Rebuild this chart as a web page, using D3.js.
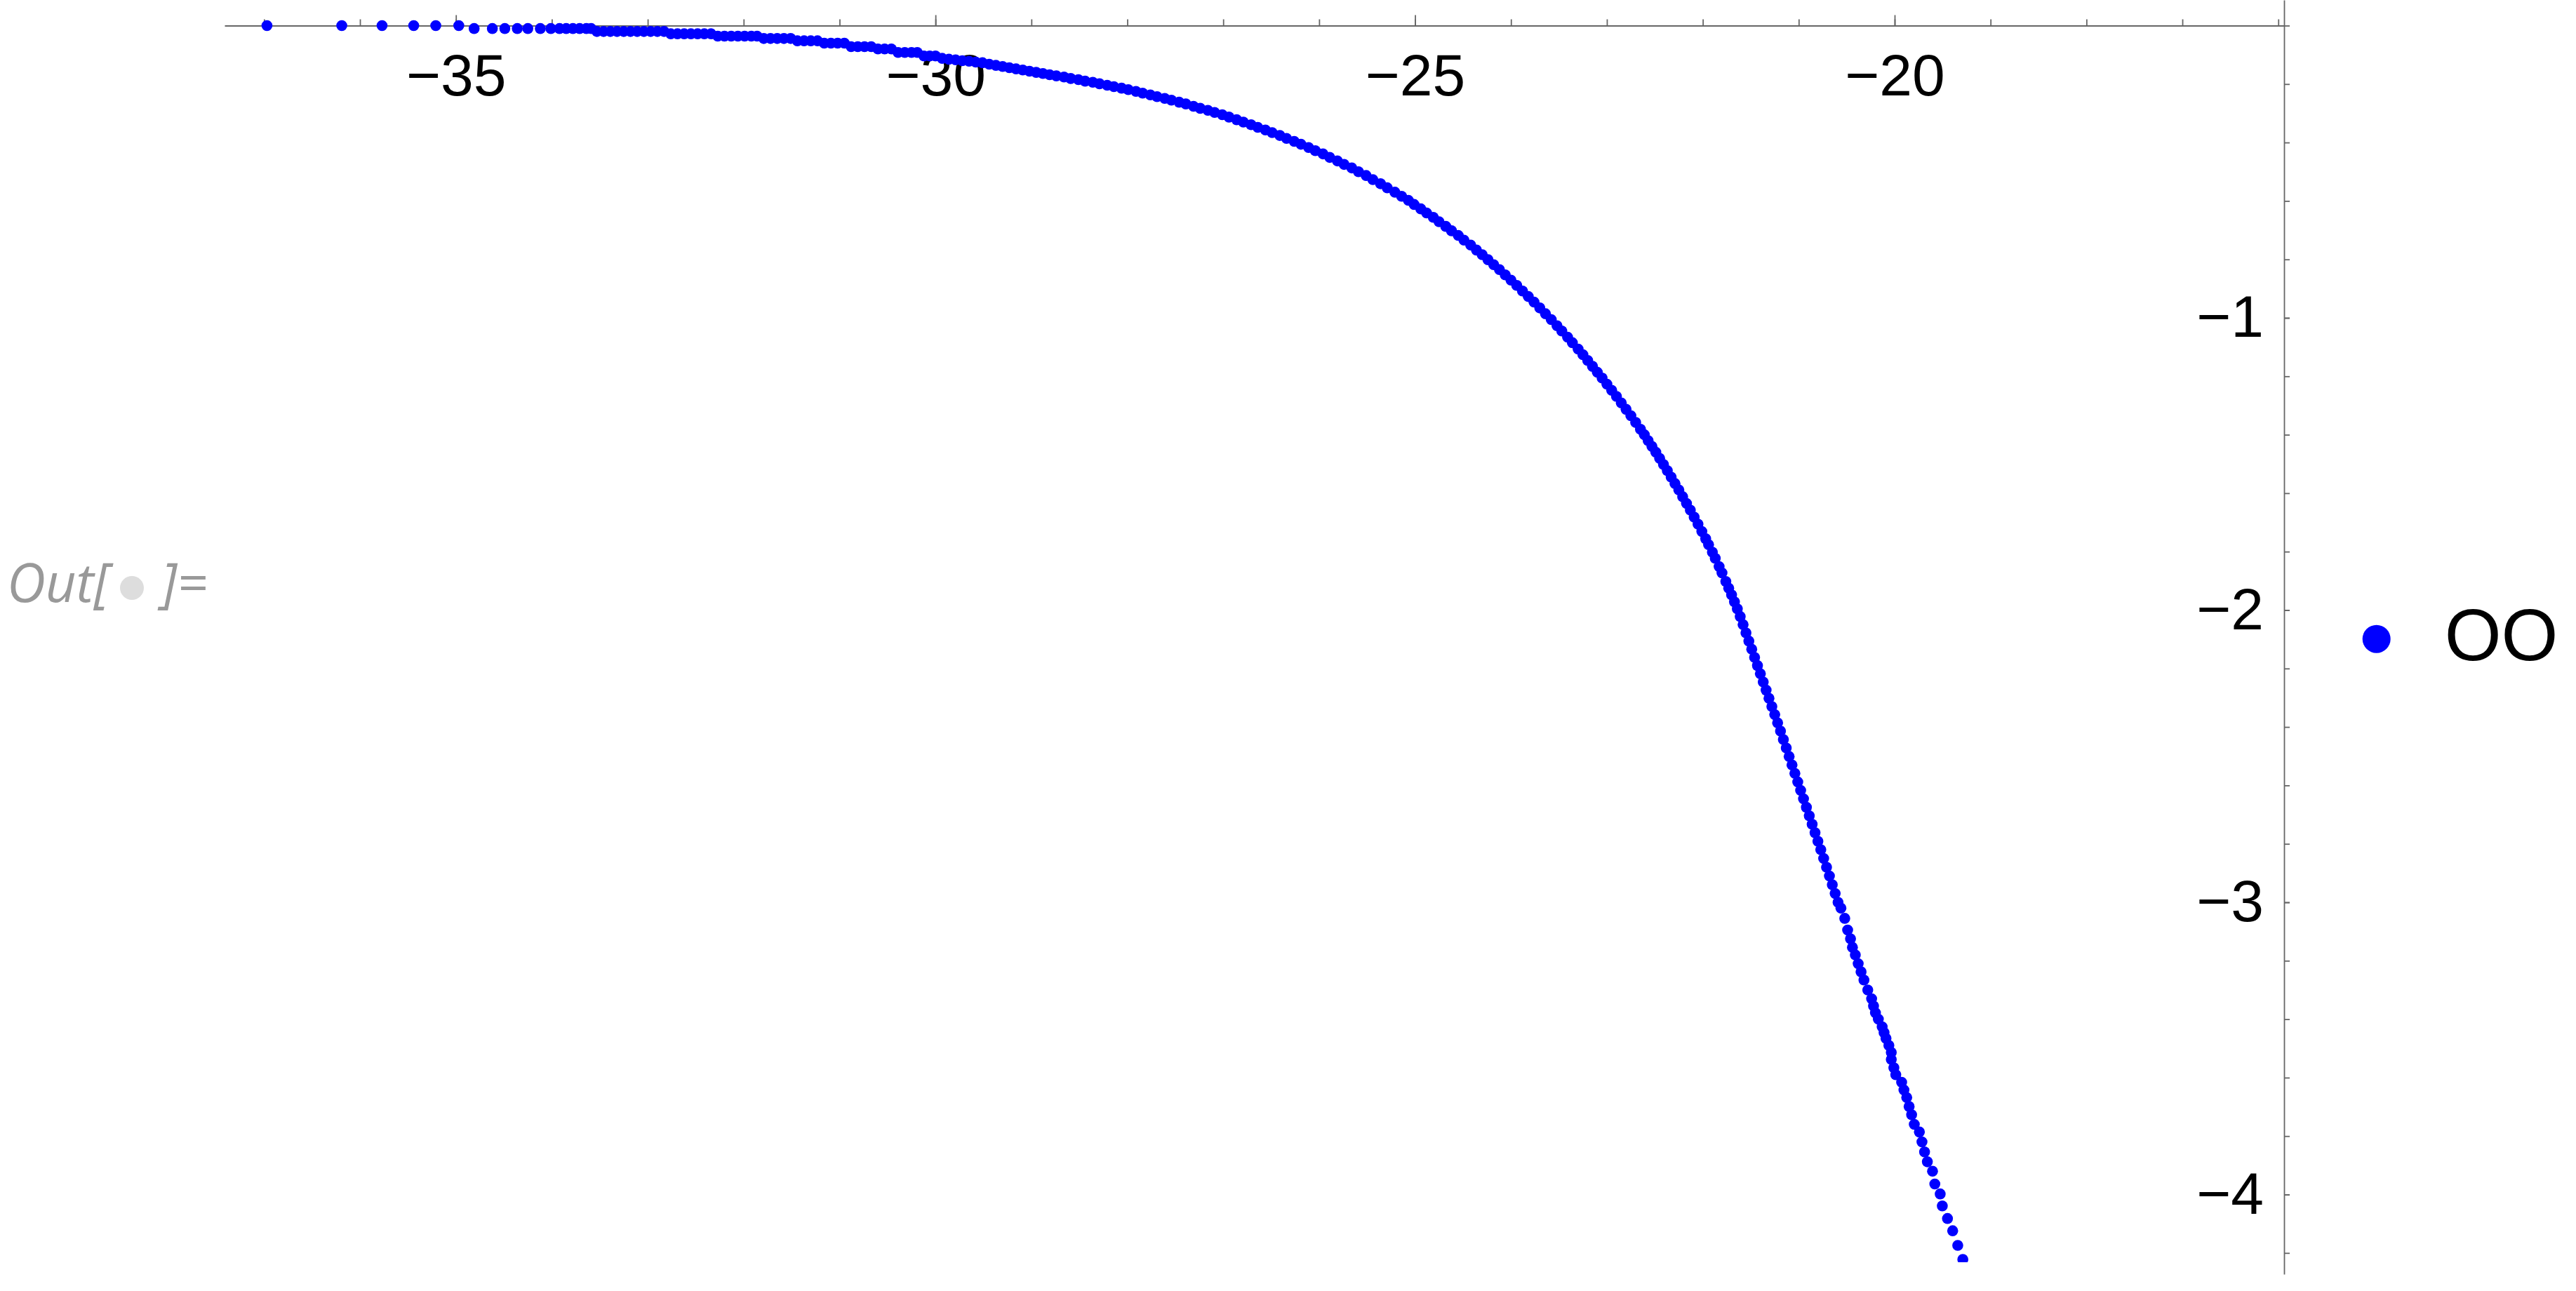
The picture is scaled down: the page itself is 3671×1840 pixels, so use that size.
<!DOCTYPE html>
<html>
<head>
<meta charset="utf-8">
<script src="https://cdn.jsdelivr.net/npm/d3@7"></script>
<style>
  body { margin: 0; background: #fff; }
  svg { display: block; }
</style>
</head>
<body>
<div id="chart"></div>
<script>
(function(){
  var width = 3671,
      height = 1840;

  // tick values
  var xMajorTicks = [-35, -30, -25, -20];
  var xMinorTicks = [-37, -36, -35, -34, -33, -32, -31, -30, -29, -28, -27, -26, -25, -24, -23, -22, -21, -20, -19, -18, -17, -16];
  var yMajorTicks = [-1, -2, -3, -4];
  var yMinorTicks = [0, -0.2, -0.4, -0.6, -0.8, -1, -1.2, -1.4, -1.6, -1.8, -2, -2.2, -2.4, -2.6, -2.8, -3, -3.2, -3.4, -3.6, -3.8, -4, -4.2];

  var seriesName = "OO";
  var outLabel = ["Out[", "]="];

  // points: [x, y]
  var ooPoints = [
    [-36.97,0],[-36.19,0],[-35.77,0],[-35.44,0],[-35.21,0],[-34.97,0],
    [-34.81,-0.01],[-34.62,-0.01],[-34.49,-0.01],[-34.36,-0.01],[-34.25,-0.01],[-34.12,-0.01],[-34.01,-0.01],
    [-33.92,-0.01],[-33.85,-0.01],[-33.78,-0.01],[-33.71,-0.01],[-33.64,-0.01],[-33.59,-0.01],
    [-33.53,-0.02],[-33.46,-0.02],[-33.39,-0.02],[-33.32,-0.02],[-33.25,-0.02],[-33.18,-0.02],[-33.11,-0.02],
    [-33.04,-0.02],[-32.97,-0.02],[-32.90,-0.02],[-32.83,-0.02],
    [-32.76,-0.028],[-32.69,-0.028],[-32.62,-0.028],[-32.55,-0.028],[-32.48,-0.028],[-32.41,-0.028],[-32.34,-0.028],
    [-32.27,-0.036],[-32.20,-0.036],[-32.13,-0.036],[-32.06,-0.036],[-31.99,-0.036],[-31.92,-0.036],[-31.86,-0.036],
    [-31.79,-0.044],[-31.72,-0.044],[-31.65,-0.044],[-31.58,-0.044],[-31.51,-0.044],
    [-31.44,-0.052],[-31.37,-0.052],[-31.30,-0.052],[-31.23,-0.052],
    [-31.16,-0.06],[-31.09,-0.06],[-31.02,-0.06],[-30.95,-0.06],
    [-30.88,-0.072],[-30.81,-0.072],[-30.74,-0.072],[-30.67,-0.072],
    [-30.60,-0.08],[-30.53,-0.08],[-30.46,-0.08],
    [-30.39,-0.092],[-30.32,-0.092],[-30.25,-0.092],[-30.19,-0.092],
    [-30.12,-0.104],[-30.06,-0.104],[-30.00,-0.104],
    [-29.93,-0.112],[-29.86,-0.115],[-29.79,-0.117],[-29.72,-0.12],[-29.65,-0.122],[-29.58,-0.125],[-29.51,-0.127],
    [-29.44,-0.132],[-29.37,-0.136],[-29.30,-0.14],[-29.23,-0.144],[-29.16,-0.148],
    [-29.09,-0.152],[-29.02,-0.156],[-28.95,-0.16],[-28.88,-0.164],[-28.81,-0.168],
    [-28.74,-0.172],[-28.66,-0.176],[-28.59,-0.181],[-28.51,-0.185],[-28.44,-0.19],[-28.36,-0.194],[-28.29,-0.199],
    [-28.21,-0.204],[-28.14,-0.209],[-28.06,-0.214],[-27.99,-0.219],[-27.91,-0.225],[-27.84,-0.231],[-27.76,-0.237],
    [-27.69,-0.243],[-27.61,-0.249],[-27.54,-0.255],[-27.46,-0.262],[-27.39,-0.268],[-27.31,-0.276],[-27.24,-0.283],
    [-27.16,-0.29],[-27.09,-0.297],[-27.01,-0.305],[-26.94,-0.313],[-26.86,-0.322],[-26.79,-0.33],[-26.71,-0.339],
    [-26.64,-0.348],[-26.56,-0.357],[-26.49,-0.366],[-26.41,-0.376],[-26.34,-0.386],[-26.26,-0.396],[-26.19,-0.406],
    [-26.11,-0.417],[-26.04,-0.428],[-25.96,-0.439],[-25.89,-0.451],[-25.81,-0.463],[-25.74,-0.475],[-25.66,-0.487],
    [-25.59,-0.5],[-25.51,-0.513],[-25.44,-0.527],[-25.36,-0.541],[-25.29,-0.555],[-25.21,-0.57],
    [-25.14,-0.584],[-25.07,-0.598],[-25.01,-0.612],[-24.94,-0.627],[-24.88,-0.641],[-24.81,-0.656],[-24.75,-0.671],
    [-24.68,-0.687],[-24.62,-0.702],[-24.55,-0.718],[-24.49,-0.734],[-24.42,-0.751],[-24.36,-0.768],[-24.30,-0.784],
    [-24.24,-0.801],[-24.18,-0.818],[-24.12,-0.835],[-24.06,-0.853],[-24.00,-0.871],[-23.94,-0.889],[-23.88,-0.908],
    [-23.82,-0.927],[-23.76,-0.946],[-23.70,-0.966],[-23.64,-0.986],[-23.58,-1.006],[-23.52,-1.027],[-23.47,-1.045],
    [-23.41,-1.066],[-23.36,-1.085],[-23.30,-1.107],[-23.25,-1.126],[-23.20,-1.146],[-23.15,-1.166],[-23.10,-1.186],
    [-23.05,-1.206],
    [-23.00,-1.227],[-22.95,-1.248],[-22.90,-1.269],[-22.85,-1.291],[-22.80,-1.313],[-22.75,-1.335],[-22.70,-1.358],
    [-22.65,-1.381],[-22.61,-1.4],[-22.57,-1.42],[-22.53,-1.44],[-22.49,-1.46],[-22.45,-1.481],[-22.41,-1.502],
    [-22.37,-1.523],[-22.33,-1.545],[-22.29,-1.567],[-22.25,-1.589],[-22.21,-1.612],[-22.17,-1.635],[-22.13,-1.658],
    [-22.09,-1.682],[-22.05,-1.706],[-22.01,-1.731],[-21.97,-1.756],[-21.94,-1.776],[-21.90,-1.802],[-21.87,-1.823],
    [-21.83,-1.851],[-21.80,-1.873],[-21.76,-1.902],[-21.73,-1.925],[-21.70,-1.948],[-21.67,-1.972],[-21.64,-1.996],
    [-21.61,-2.022],[-21.58,-2.05],[-21.55,-2.078],[-21.52,-2.106],[-21.49,-2.134],[-21.46,-2.162],[-21.43,-2.19],
    [-21.40,-2.218],[-21.37,-2.246],[-21.34,-2.274],[-21.31,-2.302],[-21.28,-2.33],[-21.25,-2.358],[-21.22,-2.386],
    [-21.19,-2.414],[-21.16,-2.443],[-21.13,-2.472],[-21.10,-2.501],[-21.07,-2.53],[-21.04,-2.559],[-21.01,-2.588],
    [-20.98,-2.617],[-20.95,-2.646],[-20.92,-2.675],[-20.89,-2.704],[-20.86,-2.733],[-20.83,-2.762],[-20.80,-2.791],
    [-20.77,-2.82],[-20.74,-2.85],[-20.71,-2.88],[-20.68,-2.91],[-20.65,-2.94],[-20.62,-2.97],[-20.59,-3.0],
    [-20.56,-3.02],
    [-20.52,-3.055],[-20.49,-3.095],[-20.46,-3.125],[-20.44,-3.154],[-20.41,-3.18],[-20.38,-3.21],[-20.35,-3.238],
    [-20.32,-3.266],[-20.28,-3.3],[-20.24,-3.33],[-20.22,-3.355],[-20.20,-3.378],[-20.17,-3.4],[-20.13,-3.426],
    [-20.11,-3.446],[-20.09,-3.466],[-20.06,-3.49],[-20.035,-3.514],[-20.035,-3.538],[-20.008,-3.566],[-19.988,-3.59],
    [-19.927,-3.616],[-19.903,-3.642],[-19.874,-3.668],[-19.849,-3.699],[-19.823,-3.727],[-19.795,-3.76],[-19.742,-3.786],
    [-19.715,-3.82],[-19.688,-3.854],[-19.659,-3.888],[-19.605,-3.92],[-19.581,-3.964],[-19.525,-3.998],[-19.503,-4.039],
    [-19.449,-4.082],[-19.395,-4.124],[-19.342,-4.174],[-19.289,-4.222]
  ];

  var svg = d3.select("#chart")
    .append("svg")
    .attr("width", width)
    .attr("height", height)
    .style("background", "#fff");

  var x = d3.scaleLinear().domain([-35, -20]).range([649.7, 2700]);
  var y = d3.scaleLinear().domain([0, -4]).range([36.5, 1702.5]);

  // axis extents in pixels
  var left = 320, right = 3255, top = 0, bottom = 1816, clipBottom = 1799;

  var xAxisScale = x.copy().domain([x.invert(left), x.invert(right)]).range([left, right]);
  var yAxisScale = y.copy().domain([y.invert(top), y.invert(bottom)]).range([top, bottom]);

  var axisGray = "#666666",
      labelFont = "'Liberation Sans', Arial, sans-serif";

  // x axis: minor ticks + line
  var gxMinor = svg.append("g")
    .attr("transform", "translate(0," + y(0) + ")")
    .call(d3.axisBottom(xAxisScale).tickValues(xMinorTicks).tickSize(-9).tickSizeOuter(0).tickFormat(""));
  gxMinor.attr("color", axisGray);
  gxMinor.selectAll("path, line").attr("stroke-width", 1.8);

  // x axis: major ticks with labels
  var gxMajor = svg.append("g")
    .attr("transform", "translate(0," + y(0) + ")")
    .call(d3.axisBottom(xAxisScale).tickValues(xMajorTicks).tickSize(-15).tickSizeOuter(0)
      .tickPadding(40).tickFormat(d3.format("d")));
  gxMajor.select(".domain").remove();
  gxMajor.attr("color", axisGray);
  gxMajor.selectAll("line").attr("stroke-width", 1.8);
  gxMajor.selectAll("text")
    .attr("fill", "#000")
    .style("font-family", labelFont)
    .style("font-size", "84px");

  // y axis on the right edge of the plot
  var gyMinor = svg.append("g")
    .attr("transform", "translate(" + right + ",0)")
    .call(d3.axisLeft(yAxisScale).tickValues(yMinorTicks).tickSize(-8).tickSizeOuter(0).tickFormat(""));
  gyMinor.attr("color", axisGray);
  gyMinor.selectAll("path, line").attr("stroke-width", 1.8);

  var gyMajor = svg.append("g")
    .attr("transform", "translate(" + right + ",0)")
    .call(d3.axisLeft(yAxisScale).tickValues(yMajorTicks).tickSize(-8).tickSizeOuter(0)
      .tickPadding(29).tickFormat(d3.format("d")));
  gyMajor.select(".domain").remove();
  gyMajor.attr("color", axisGray);
  gyMajor.selectAll("line").attr("stroke-width", 1.8);
  gyMajor.selectAll("text")
    .attr("fill", "#000")
    .style("font-family", labelFont)
    .style("font-size", "84px");

  // points
  svg.append("clipPath")
    .attr("id", "plot-clip")
    .append("rect")
    .attr("x", left)
    .attr("y", top)
    .attr("width", right - left)
    .attr("height", clipBottom - top);

  svg.append("g")
    .attr("clip-path", "url(#plot-clip)")
    .selectAll(".pt")
    .data(ooPoints)
    .enter().append("circle")
    .attr("class", "pt")
    .attr("cx", function(d){ return x(d[0]); })
    .attr("cy", function(d){ return y(d[1]); })
    .attr("r", 7.8)
    .attr("fill", "#0000ff");

  // legend
  var legend = svg.append("g").attr("transform", "translate(3386.7,910.7)");
  legend.append("circle").attr("r", 20).attr("fill", "#0000ff");
  legend.append("text")
    .attr("x", 97)
    .attr("y", 30)
    .style("font-family", labelFont)
    .style("font-size", "104px")
    .attr("fill", "#000")
    .text(seriesName);

  // notebook output label
  var outG = svg.append("g")
    .style("font-family", "'Open Sans', 'Noto Sans', sans-serif")
    .style("font-style", "italic")
    .style("font-size", "76px")
    .attr("fill", "#999999");
  outG.append("text").attr("x", 10).attr("y", 858).text(outLabel[0]);
  outG.append("circle").attr("cx", 188).attr("cy", 838).attr("r", 17).attr("fill", "#dddddd");
  outG.append("text").attr("x", 230).attr("y", 858).text(outLabel[1]);
})();
</script>
</body>
</html>
